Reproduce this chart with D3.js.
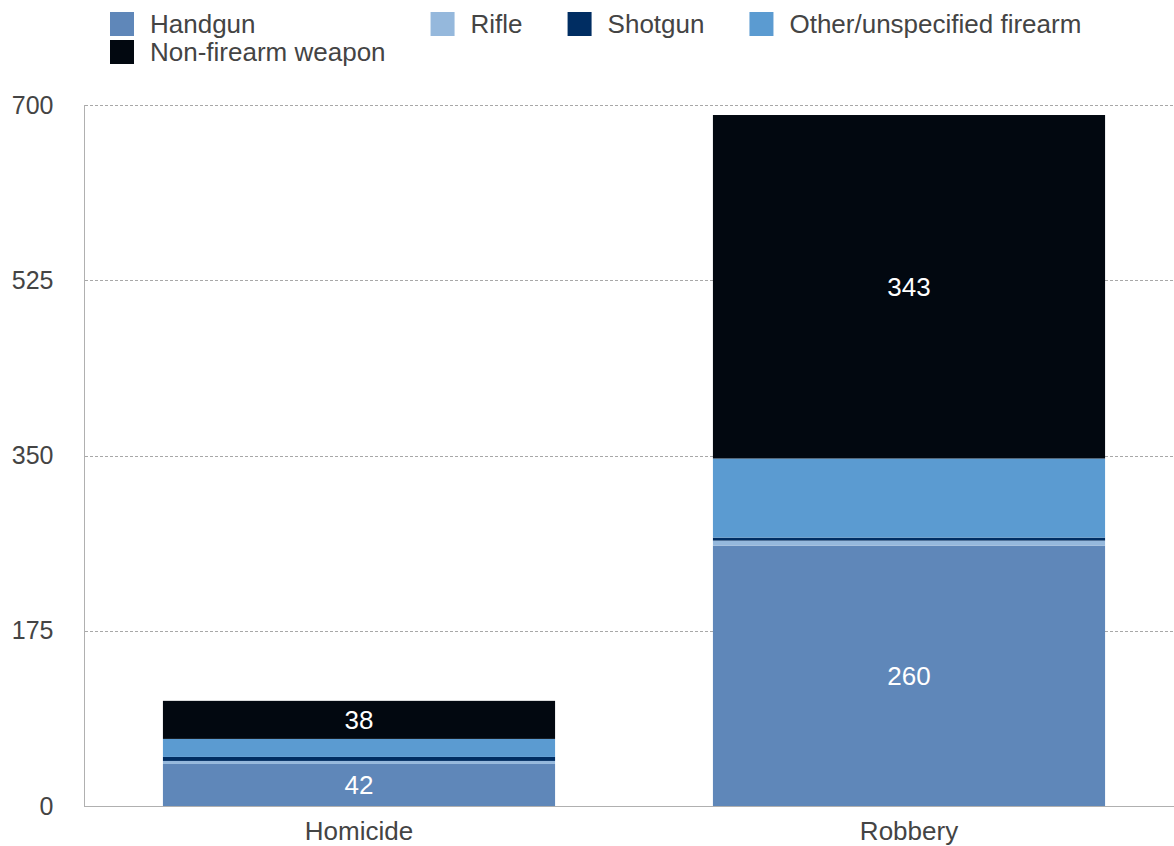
<!DOCTYPE html>
<html>
<head>
<meta charset="utf-8">
<script src="https://cdn.jsdelivr.net/npm/d3@7"></script>
<style>
body { margin: 0; background: #fff; }
text { font-family: "Liberation Sans", Arial, sans-serif; }
</style>
</head>
<body>
<svg id="chart"></svg>
<script>
var width = 1174;
var height = 846;

var categories = ["Homicide", "Robbery"];
var seriesNames = ["Handgun", "Rifle", "Shotgun", "Other/unspecified firearm", "Non-firearm weapon"];
var seriesColors = ["#5f87b9", "#95b8dc", "#002d62", "#5b9bd1", "#020810"];
var handgun = [42, 260];
var rifle = [3, 5];
var shotgun = [4, 3];
var otherFirearm = [18, 79];
var nonFirearm = [38, 343];
var labeledSeries = ["Handgun", "Non-firearm weapon"];
var yTicks = [0, 175, 350, 525, 700];

var values = [handgun, rifle, shotgun, otherFirearm, nonFirearm];
var rows = categories.map(function (c, i) {
    var r = {category: c};
    seriesNames.forEach(function (s, j) { r[s] = values[j][i]; });
    return r;
});
var stacked = d3.stack().keys(seriesNames)(rows);

var svg = d3.select("#chart")
    .attr("width", width)
    .attr("height", height);

var x = d3.scaleBand()
    .domain(categories)
    .range([84, 1184])
    .paddingInner(0.287)
    .paddingOuter(0.1435);

var y = d3.scaleLinear()
    .domain([0, 700])
    .range([806, 105]);

// gridlines
svg.append("g")
    .selectAll("line")
    .data(yTicks.filter(function (d) { return d > 0; }))
    .enter()
    .append("line")
    .attr("x1", 85)
    .attr("x2", width)
    .attr("y1", function (d) { return Math.round(y(d)) + 0.5; })
    .attr("y2", function (d) { return Math.round(y(d)) + 0.5; })
    .attr("stroke", "#a8a8a8")
    .attr("stroke-width", 1)
    .attr("stroke-dasharray", "3,2");

// bars
var layer = svg.append("g")
    .selectAll("g")
    .data(stacked)
    .enter()
    .append("g")
    .attr("fill", function (d, i) { return seriesColors[i]; });

layer.selectAll("rect")
    .data(function (d) { return d; })
    .enter()
    .append("rect")
    .attr("x", function (d) { return x(d.data.category); })
    .attr("width", x.bandwidth())
    .attr("y", function (d) { return y(d[1]); })
    .attr("height", function (d) { return y(d[0]) - y(d[1]); });

// value labels
stacked.forEach(function (s) {
    if (labeledSeries.indexOf(s.key) < 0) return;
    svg.append("g")
        .selectAll("text")
        .data(s)
        .enter()
        .append("text")
        .attr("x", function (d) { return x(d.data.category) + x.bandwidth() / 2; })
        .attr("y", function (d) { return (y(d[0]) + y(d[1])) / 2; })
        .attr("dy", "0.36em")
        .attr("text-anchor", "middle")
        .style("font-size", "26px")
        .style("fill", "#ffffff")
        .text(function (d) { return d.data[s.key]; });
});

// y axis
var yAxis = svg.append("g")
    .attr("transform", "translate(84.5,0)")
    .call(d3.axisLeft(y).tickValues(yTicks).tickSize(0).tickPadding(31));
yAxis.select(".domain").attr("stroke", "#b0b0b0").attr("d", "M0," + y(700) + "V" + y(0));
yAxis.selectAll("text")
    .style("font-size", "25px")
    .style("font-family", "'Liberation Sans', Arial, sans-serif")
    .attr("fill", "#444");

// x axis
var xAxis = svg.append("g")
    .attr("transform", "translate(0," + (y(0) + 0.5) + ")")
    .call(d3.axisBottom(x).tickSize(0).tickPadding(15));
xAxis.select(".domain").attr("stroke", "#b0b0b0").attr("d", "M84,0H" + width);
xAxis.selectAll("text")
    .style("font-size", "26px")
    .style("font-family", "'Liberation Sans', Arial, sans-serif")
    .attr("fill", "#444");

// legend, laid out as a grid of 4 columns
var legendCols = 4;
var legend = svg.append("g");
var items = legend.selectAll("g")
    .data(seriesNames)
    .enter()
    .append("g");
items.append("rect")
    .attr("width", 24)
    .attr("height", 24)
    .attr("fill", function (d, i) { return seriesColors[i]; });
items.append("text")
    .attr("x", 40)
    .attr("y", 12)
    .attr("dy", "0.36em")
    .style("font-size", "26px")
    .style("fill", "#444")
    .text(function (d) { return d; });

var colWidths = [];
items.each(function (d, i) {
    var w = d3.select(this).select("text").node().getComputedTextLength();
    var c = i % legendCols;
    colWidths[c] = Math.max(colWidths[c] || 0, w);
});
var colX = [110];
for (var c = 1; c < legendCols; c++) {
    colX[c] = colX[c - 1] + 40 + colWidths[c - 1] + 45;
}
items.attr("transform", function (d, i) {
    return "translate(" + colX[i % legendCols] + "," + (12 + Math.floor(i / legendCols) * 28) + ")";
});
</script>
</body>
</html>
